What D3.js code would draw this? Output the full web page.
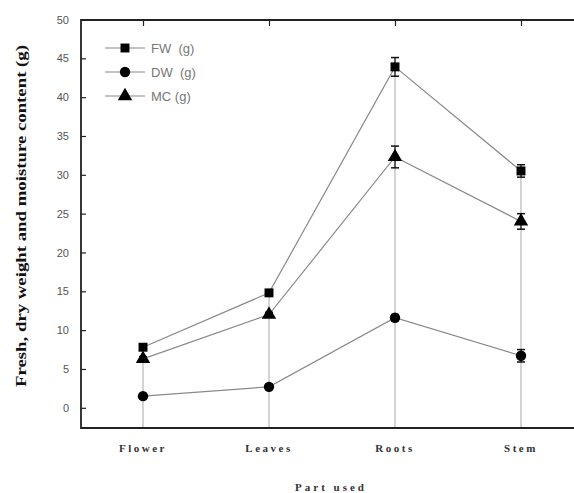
<!DOCTYPE html>
<html>
<head>
<meta charset="utf-8">
<script src="https://cdn.jsdelivr.net/npm/d3@7"></script>
<style>
  body { margin: 0; background: #fff; }
</style>
</head>
<body>
<div id="viz"></div>
<script>
const parts = ["Flower", "Leaves", "Roots", "Stem"];
const fwValues = [7.8, 14.8, 43.9, 30.5];
const fwErrors = [0.3, 0.3, 1.2, 0.8];
const dwValues = [1.5, 2.7, 11.6, 6.7];
const dwErrors = [0.3, 0.3, 0.4, 0.8];
const mcValues = [6.3, 12.0, 32.3, 24.0];
const mcErrors = [0.3, 0.3, 1.4, 1.0];
const yTicks = [0, 5, 10, 15, 20, 25, 30, 35, 40, 45, 50];

const width = 574;
const height = 493;
const frameLeft = 81, frameTop = 20, frameRight = 582, frameBottom = 428;

const svg = d3.select("#viz").append("svg")
    .attr("width", width)
    .attr("height", height);

const x = d3.scalePoint()
    .domain(parts)
    .range([143, 521]);

const y = d3.scaleLinear()
    .domain([-2.6, 50])
    .range([frameBottom, frameTop - 0.5]);

const series = [
    { name: "FW  (g)", values: fwValues, errors: fwErrors, symbol: d3.symbolSquare, size: 80 },
    { name: "DW  (g)", values: dwValues, errors: dwErrors, symbol: d3.symbolCircle, size: 85 },
    { name: "MC (g)", values: mcValues, errors: mcErrors, symbol: d3.symbolTriangle, size: 90 }
];

// grey drop lines from the top point to the bottom of the frame
svg.append("g").selectAll("line")
    .data(parts)
    .enter()
    .append("line")
    .attr("x1", d => x(d))
    .attr("x2", d => x(d))
    .attr("y1", (d, i) => y(fwValues[i] + fwErrors[i]))
    .attr("y2", frameBottom)
    .attr("stroke", "#c4c4c4")
    .attr("stroke-width", 1.5);

// y axis with inward ticks
const yAxis = svg.append("g")
    .attr("transform", "translate(" + frameLeft + ",0)")
    .call(d3.axisRight(y).tickValues(yTicks).tickSize(5).tickFormat(d3.format("d")));
yAxis.select(".domain").remove();
yAxis.selectAll(".tick line").attr("stroke", "#222").attr("stroke-width", 1.2);
yAxis.selectAll(".tick text")
    .attr("x", -12)
    .attr("text-anchor", "end")
    .attr("fill", "#555")
    .attr("font-family", "Liberation Sans, Arial, sans-serif")
    .attr("font-size", "11px");

// top axis ticks at the categories
const topAxis = svg.append("g")
    .attr("transform", "translate(0," + frameTop + ")")
    .call(d3.axisBottom(x).tickSize(6).tickFormat(""));
topAxis.select(".domain").remove();
topAxis.selectAll(".tick line").attr("stroke", "#222").attr("stroke-width", 1.2);

// frame
svg.append("path")
    .attr("d", "M" + frameRight + "," + frameTop + "H" + frameLeft + "V" + frameBottom + "H" + frameRight)
    .attr("fill", "none")
    .attr("stroke", "#222")
    .attr("stroke-width", 1.8);

const line = d3.line()
    .x((d, i) => x(parts[i]))
    .y(d => y(d));

series.forEach(s => {
    svg.append("path")
        .attr("d", line(s.values))
        .attr("fill", "none")
        .attr("stroke", "#8a8a8a")
        .attr("stroke-width", 1.2);

    const err = svg.append("g").selectAll("g")
        .data(s.values)
        .enter()
        .append("g");
    err.append("line")
        .attr("x1", (d, i) => x(parts[i]))
        .attr("x2", (d, i) => x(parts[i]))
        .attr("y1", (d, i) => y(d + s.errors[i]))
        .attr("y2", (d, i) => y(d - s.errors[i]))
        .attr("stroke", "#111")
        .attr("stroke-width", 1.2);
    [1, -1].forEach(sign => {
        err.append("line")
            .attr("x1", (d, i) => x(parts[i]) - 4)
            .attr("x2", (d, i) => x(parts[i]) + 4)
            .attr("y1", (d, i) => y(d + sign * s.errors[i]))
            .attr("y2", (d, i) => y(d + sign * s.errors[i]))
            .attr("stroke", "#111")
            .attr("stroke-width", 1.5);
    });

    svg.append("g").selectAll("path")
        .data(s.values)
        .enter()
        .append("path")
        .attr("d", d3.symbol().type(s.symbol).size(s.size))
        .attr("transform", (d, i) => "translate(" + x(parts[i]) + "," + y(d) + ")")
        .attr("fill", "#000");
});

// legend
const legend = svg.append("g");
series.forEach((s, i) => {
    const ly = 48 + i * 24;
    legend.append("line")
        .attr("x1", 105).attr("x2", 145)
        .attr("y1", ly).attr("y2", ly)
        .attr("stroke", "#8a8a8a")
        .attr("stroke-width", 1.2);
    legend.append("path")
        .attr("d", d3.symbol().type(s.symbol).size(s.size)())
        .attr("transform", "translate(125," + ly + ")")
        .attr("fill", "#000");
    legend.append("text")
        .attr("x", 151)
        .attr("y", ly)
        .attr("dy", "0.35em")
        .attr("fill", "#777")
        .attr("font-family", "Liberation Sans, Arial, sans-serif")
        .attr("font-size", "13px")
        .style("white-space", "pre")
        .text(s.name);
});

// category labels
svg.append("g").selectAll("text")
    .data(parts)
    .enter()
    .append("text")
    .attr("x", d => x(d))
    .attr("y", 452)
    .attr("text-anchor", "middle")
    .attr("font-family", "Liberation Serif, Times New Roman, serif")
    .attr("font-weight", "bold")
    .attr("font-size", "11px")
    .attr("letter-spacing", "2.5px")
    .attr("fill", "#333")
    .text(d => d);

svg.append("text")
    .attr("x", 331)
    .attr("y", 491)
    .attr("text-anchor", "middle")
    .attr("font-family", "Liberation Serif, Times New Roman, serif")
    .attr("font-weight", "bold")
    .attr("font-size", "11px")
    .attr("letter-spacing", "3px")
    .attr("fill", "#333")
    .text("Part used");

svg.append("text")
    .attr("transform", "translate(26,216) rotate(-90)")
    .attr("text-anchor", "middle")
    .attr("font-family", "Liberation Serif, Times New Roman, serif")
    .attr("font-weight", "bold")
    .attr("font-size", "15px")
    .attr("textLength", 342)
    .attr("lengthAdjust", "spacingAndGlyphs")
    .attr("fill", "#111")
    .text("Fresh, dry weight and moisture content (g)");
</script>
</body>
</html>
